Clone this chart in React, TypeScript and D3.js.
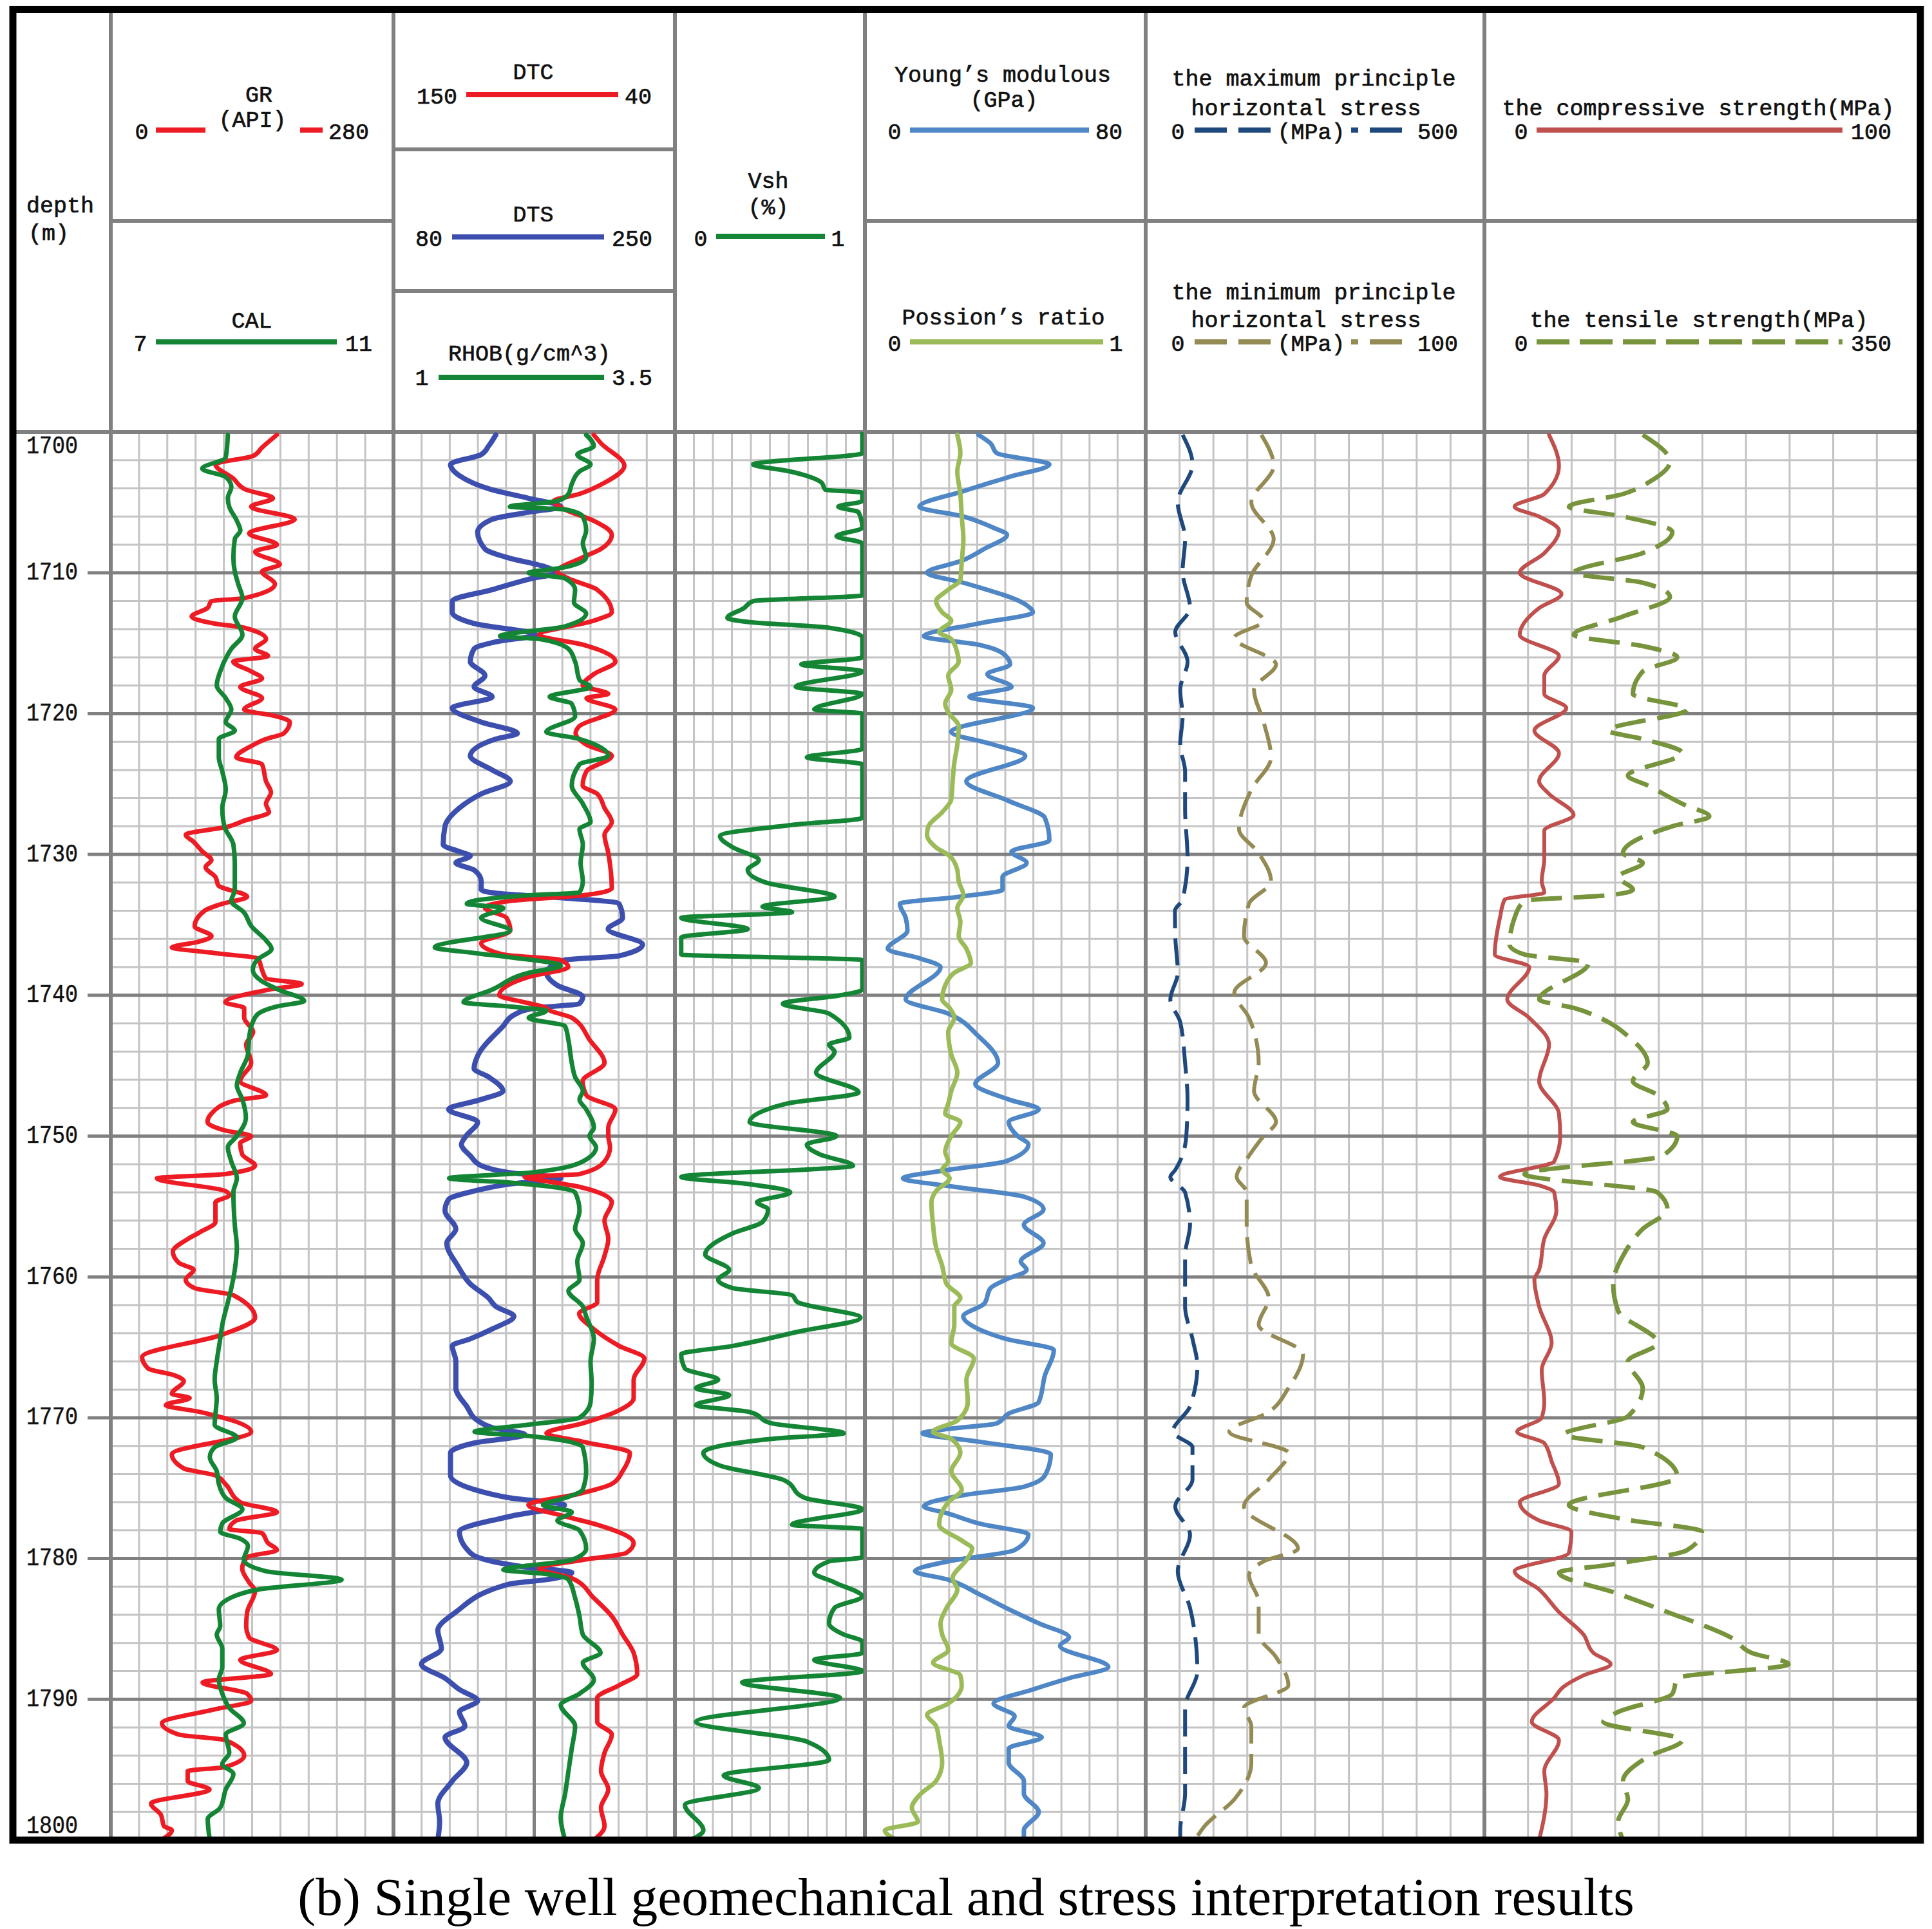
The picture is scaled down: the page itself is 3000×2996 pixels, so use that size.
import React from "react";
import * as d3 from "d3";

type Pt = [number, number]; // [depth m, value]

const depthTicks = [1700, 1710, 1720, 1730, 1740, 1750, 1760, 1770, 1780, 1790, 1800];

const GR: Pt[] = [[1700.2,165],[1701.1,150],[1701.7,141],[1702.3,103],[1703.3,121],[1704.1,134],[1704.7,161],[1705.3,139],[1706.2,183],[1707.2,137],[1708.0,165],[1708.5,143],[1709.4,168],[1709.9,150],[1710.8,163],[1711.8,132],[1712.0,99],[1712.5,95],[1713.1,79],[1713.6,102],[1713.9,132],[1714.7,154],[1715.4,143],[1715.9,156],[1716.3,121],[1717.0,139],[1717.5,150],[1718.1,128],[1718.9,150],[1719.7,132],[1720.2,165],[1720.6,178],[1721.4,172],[1721.8,154],[1722.3,139],[1723.1,124],[1723.6,150],[1724.8,154],[1725.6,159],[1726.4,154],[1727.0,157],[1727.6,132],[1728.0,117],[1728.6,73],[1729.1,81],[1729.8,90],[1730.4,99],[1730.9,93],[1731.6,103],[1732.2,106],[1733.0,135],[1733.5,110],[1734.0,92],[1735.1,82],[1735.8,99],[1736.2,86],[1736.6,59],[1737.0,102],[1737.4,146],[1738.2,150],[1738.8,154],[1739.2,190],[1739.6,157],[1740.5,113],[1740.9,132],[1741.6,132],[1742.6,141],[1743.5,134],[1744.8,139],[1746.1,128],[1747.1,154],[1747.5,121],[1748.4,99],[1749.0,95],[1749.6,113],[1750.0,139],[1750.5,128],[1751.3,130],[1752.1,143],[1752.7,113],[1753.0,44],[1753.9,113],[1754.2,117],[1754.7,103],[1756.1,103],[1756.8,88],[1757.4,73],[1758.2,60],[1759.0,66],[1759.5,81],[1760.2,73],[1760.8,82],[1761.3,121],[1762.9,143],[1764.1,110],[1765.7,29],[1766.5,35],[1767.0,62],[1767.4,71],[1768.3,59],[1768.6,77],[1769.1,53],[1769.6,88],[1771.0,139],[1772.6,59],[1773.6,71],[1774.1,103],[1774.7,113],[1776.0,128],[1776.7,165],[1777.3,124],[1777.9,117],[1778.2,150],[1778.9,156],[1779.4,165],[1779.9,135],[1780.7,130],[1781.7,137],[1782.3,143],[1783.8,135],[1784.8,134],[1785.6,137],[1786.5,165],[1787.2,128],[1788.2,159],[1788.8,90],[1789.6,135],[1790.1,139],[1790.7,103],[1791.7,49],[1792.5,66],[1792.9,113],[1794.0,132],[1794.8,113],[1795.1,75],[1795.8,75],[1796.4,97],[1797.4,38],[1798.2,48],[1799.0,51],[1799.3,59],[1800.0,48]];

const CAL: Pt[] = [[1700.2,8.65],[1701.8,8.62],[1702.6,8.28],[1703.2,8.62],[1703.9,8.70],[1704.7,8.65],[1705.3,8.67],[1706.3,8.78],[1707.0,8.83],[1707.6,8.75],[1708.9,8.73],[1709.9,8.75],[1710.8,8.80],[1711.8,8.86],[1713.1,8.75],[1714.4,8.86],[1715.4,8.70],[1717.0,8.54],[1718.0,8.49],[1718.9,8.62],[1719.7,8.70],[1720.6,8.62],[1721.2,8.75],[1721.8,8.52],[1723.1,8.52],[1724.1,8.57],[1725.4,8.62],[1726.7,8.57],[1728.0,8.60],[1729.3,8.73],[1730.6,8.75],[1732.5,8.75],[1733.3,8.70],[1734.1,8.88],[1735.1,8.99],[1736.1,9.20],[1736.7,9.28],[1737.5,9.07],[1738.2,9.01],[1739.0,9.14],[1739.6,9.38],[1740.4,9.75],[1740.8,9.35],[1741.3,9.09],[1741.9,9.01],[1742.9,8.96],[1744.2,8.94],[1745.5,8.83],[1746.4,8.78],[1747.4,8.86],[1748.7,8.91],[1750.0,8.78],[1750.8,8.65],[1751.8,8.70],[1753.0,8.78],[1754.0,8.73],[1756.3,8.75],[1757.9,8.78],[1759.5,8.75],[1760.8,8.70],[1761.8,8.65],[1763.4,8.57],[1764.4,8.54],[1766.0,8.49],[1767.3,8.46],[1768.6,8.49],[1770.5,8.46],[1771.4,8.78],[1772.1,8.46],[1772.8,8.39],[1773.8,8.49],[1774.7,8.52],[1775.7,8.62],[1776.5,8.86],[1777.5,8.57],[1778.1,8.54],[1778.6,8.83],[1779.1,8.94],[1780.1,8.88],[1780.9,9.20],[1781.5,10.29],[1782.2,9.09],[1782.7,8.73],[1783.6,8.52],[1784.8,8.54],[1785.4,8.49],[1786.4,8.57],[1787.7,8.57],[1788.6,8.52],[1789.6,8.57],[1790.6,8.67],[1791.7,8.88],[1792.5,8.62],[1793.8,8.67],[1794.6,8.57],[1795.3,8.73],[1796.4,8.62],[1797.7,8.54],[1798.5,8.36],[1800.0,8.39]];

const DTC: Pt[] = [[1700.2,71.3],[1700.8,68.4],[1702.4,59.1],[1703.6,67.0],[1704.4,77.1],[1704.9,87.2],[1705.5,82.9],[1706.3,71.3],[1707.3,64.1],[1708.3,68.4],[1708.9,75.7],[1709.9,85.8],[1710.4,81.4],[1711.2,69.9],[1712.8,64.1],[1713.4,71.3],[1714.4,93.0],[1715.1,75.7],[1716.3,62.7],[1717.2,71.3],[1718.0,75.7],[1718.6,65.5],[1718.9,74.2],[1719.7,62.7],[1720.9,77.1],[1721.4,78.5],[1722.2,74.2],[1723.0,64.1],[1724.1,74.2],[1725.1,75.7],[1725.7,69.9],[1726.7,67.0],[1727.7,64.1],[1728.6,67.0],[1729.9,65.5],[1732.4,64.1],[1732.9,75.7],[1733.3,104.5],[1733.8,114.6],[1734.5,106.0],[1735.4,104.5],[1736.3,116.1],[1737.1,107.4],[1737.5,84.3],[1738.0,81.4],[1738.7,97.3],[1740.0,108.9],[1740.5,98.8],[1740.8,91.5],[1741.1,88.6],[1741.6,80.0],[1743.2,72.8],[1744.8,67.0],[1746.1,75.7],[1747.1,74.2],[1748.1,62.7],[1749.4,65.5],[1750.0,65.5],[1750.8,64.8],[1751.8,67.0],[1752.7,77.1],[1752.9,98.8],[1753.2,90.1],[1753.6,77.1],[1754.7,64.1],[1756.0,67.0],[1757.3,65.5],[1758.5,67.0],[1760.2,69.9],[1761.8,69.9],[1762.6,77.1],[1763.7,71.3],[1764.9,61.2],[1765.8,51.1],[1767.3,55.4],[1768.6,55.4],[1769.6,62.7],[1770.4,75.7],[1771.1,90.1],[1771.7,75.7],[1772.5,56.9],[1773.8,59.8],[1774.7,64.1],[1775.4,77.1],[1776.2,97.3],[1777.0,82.9],[1777.6,69.9],[1778.9,55.4],[1779.6,58.3],[1780.1,75.7],[1780.7,93.0],[1781.4,80.0],[1782.8,71.3],[1784.1,64.1],[1785.4,59.8],[1786.7,55.4],[1788.2,54.0],[1789.0,61.2],[1789.9,69.9],[1791.6,69.9],[1792.5,64.1],[1793.8,67.0],[1795.1,68.4],[1796.4,65.5],[1797.7,68.4],[1799.0,67.0],[1800.0,71.3]];

const DTS: Pt[] = [[1700.2,141.4],[1701.0,136.9],[1701.6,132.4],[1702.3,113.5],[1703.1,119.0],[1704.1,139.1],[1704.7,161.4],[1705.3,181.5],[1705.7,161.4],[1706.2,139.1],[1707.1,130.2],[1708.3,134.7],[1708.9,148.0],[1709.6,172.6],[1710.0,179.3],[1710.4,163.7],[1711.2,139.1],[1712.0,114.6],[1712.8,114.6],[1713.6,128.0],[1714.4,165.9],[1714.9,141.4],[1715.4,128.0],[1716.3,125.7],[1717.3,134.7],[1718.1,128.0],[1718.8,139.1],[1719.6,114.6],[1720.6,132.4],[1721.4,154.7],[1721.8,141.4],[1723.0,125.7],[1724.0,139.1],[1724.8,150.3],[1725.7,132.4],[1726.7,119.0],[1728.0,110.1],[1729.3,109.0],[1729.8,119.0],[1730.1,125.7],[1730.6,116.8],[1731.1,128.0],[1731.9,132.4],[1732.5,132.4],[1732.8,145.8],[1733.0,172.6],[1733.5,217.2],[1734.5,219.4],[1735.3,210.5],[1736.4,231.7],[1737.2,217.2],[1737.5,183.7],[1738.4,172.6],[1739.3,179.3],[1740.1,194.9],[1740.6,192.7],[1740.9,165.9],[1741.4,152.5],[1742.2,145.8],[1744.3,130.2],[1745.2,128.0],[1745.8,136.9],[1746.8,145.8],[1747.4,132.4],[1748.1,112.3],[1749.0,130.2],[1750.0,123.0],[1750.6,120.2],[1751.4,125.7],[1752.1,132.4],[1752.6,150.3],[1753.0,181.5],[1753.4,150.3],[1753.9,128.0],[1754.5,112.3],[1755.3,110.1],[1756.6,116.8],[1757.6,111.2],[1759.2,117.9],[1760.5,125.7],[1761.5,136.9],[1762.1,141.4],[1762.8,152.5],[1763.7,139.1],[1764.4,125.7],[1764.9,114.6],[1766.0,116.8],[1767.9,116.8],[1769.2,123.5],[1770.2,130.2],[1770.7,139.1],[1771.2,159.2],[1771.8,128.0],[1772.5,113.5],[1774.1,113.5],[1775.1,128.0],[1775.7,150.3],[1776.2,183.7],[1777.0,150.3],[1778.1,119.0],[1779.6,125.7],[1780.2,139.1],[1780.6,159.2],[1781.0,188.2],[1781.5,172.6],[1781.8,150.3],[1783.8,116.8],[1785.1,105.7],[1786.4,107.9],[1787.5,95.6],[1788.5,110.1],[1789.3,119.0],[1790.1,130.2],[1790.9,119.0],[1791.9,122.4],[1792.7,110.1],[1794.5,123.5],[1795.8,114.6],[1797.4,105.7],[1798.7,106.8],[1800.0,105.7]];

const RHOB: Pt[] = [[1700.2,2.72],[1701.0,2.79],[1701.6,2.64],[1702.3,2.76],[1702.8,2.66],[1703.7,2.59],[1704.4,2.56],[1704.9,2.46],[1705.3,2.03],[1705.5,2.53],[1706.0,2.69],[1707.0,2.72],[1707.9,2.69],[1708.9,2.72],[1709.6,2.53],[1710.0,2.20],[1710.4,2.53],[1711.2,2.62],[1712.1,2.61],[1712.9,2.72],[1713.8,2.53],[1714.5,1.94],[1714.7,2.30],[1715.4,2.56],[1716.3,2.62],[1717.6,2.66],[1718.1,2.76],[1718.8,2.39],[1719.3,2.59],[1720.2,2.62],[1721.3,2.36],[1721.8,2.66],[1723.0,2.92],[1723.6,2.66],[1725.1,2.59],[1726.4,2.69],[1727.7,2.76],[1728.2,2.66],[1729.3,2.69],[1730.6,2.67],[1731.9,2.69],[1732.7,2.66],[1732.9,2.20],[1733.5,1.64],[1733.8,1.97],[1734.5,1.77],[1735.4,2.03],[1736.6,1.35],[1737.0,1.71],[1737.3,2.03],[1737.9,2.49],[1738.4,2.20],[1739.6,1.87],[1740.5,1.61],[1740.8,2.03],[1741.1,2.36],[1741.6,2.20],[1742.2,2.53],[1743.2,2.56],[1744.8,2.59],[1745.8,2.62],[1746.8,2.69],[1747.4,2.66],[1748.1,2.72],[1749.4,2.79],[1750.0,2.75],[1750.8,2.81],[1751.8,2.69],[1752.6,2.20],[1753.0,1.48],[1753.3,2.03],[1754.0,2.62],[1755.3,2.66],[1756.6,2.62],[1757.6,2.69],[1758.9,2.64],[1760.2,2.66],[1761.0,2.56],[1762.1,2.69],[1762.8,2.72],[1764.4,2.79],[1766.0,2.76],[1767.6,2.77],[1768.9,2.76],[1770.0,2.66],[1770.5,2.20],[1771.0,1.71],[1771.3,2.20],[1772.1,2.69],[1773.8,2.72],[1775.1,2.69],[1775.7,2.53],[1776.2,2.33],[1776.7,2.59],[1777.3,2.46],[1778.0,2.66],[1779.3,2.72],[1780.1,2.59],[1780.8,1.97],[1781.1,2.36],[1781.5,2.56],[1782.8,2.62],[1784.1,2.66],[1785.4,2.69],[1786.7,2.85],[1787.4,2.69],[1788.6,2.79],[1789.6,2.66],[1790.4,2.49],[1791.9,2.62],[1793.5,2.59],[1795.1,2.56],[1796.7,2.53],[1798.4,2.49],[1800.0,2.53]];

const VSH: Pt[] = [[1700.0,1],[1701.5,1],[1702.3,0.41],[1702.8,0.61],[1703.6,0.78],[1704.1,0.80],[1704.3,1],[1704.9,1],[1705.3,0.87],[1705.7,0.98],[1706.8,1],[1707.4,0.86],[1707.9,1],[1711.6,1],[1712.0,0.41],[1712.5,0.36],[1713.2,0.27],[1713.5,0.39],[1713.9,0.82],[1714.6,1],[1716.0,1],[1716.5,0.67],[1717.0,1],[1718.1,0.64],[1718.6,1],[1719.7,0.74],[1720.0,1],[1722.5,1],[1723.1,0.70],[1723.6,1],[1727.4,1],[1727.9,0.62],[1728.7,0.23],[1729.5,0.30],[1730.4,0.44],[1731.1,0.38],[1732.0,0.48],[1733.0,0.85],[1733.7,0.46],[1734.1,0.62],[1734.5,0.02],[1735.3,0.38],[1735.9,0.02],[1737.1,0.02],[1737.5,1],[1739.6,1],[1740.0,0.88],[1740.6,0.57],[1741.3,0.82],[1743.0,0.93],[1743.5,0.82],[1744.0,0.85],[1745.5,0.75],[1746.9,0.98],[1747.7,0.59],[1749.0,0.39],[1750.0,0.86],[1750.6,0.70],[1751.3,0.77],[1752.1,0.95],[1752.9,0.02],[1753.4,0.38],[1754.0,0.61],[1754.7,0.43],[1755.2,0.49],[1756.1,0.46],[1756.9,0.30],[1758.4,0.15],[1759.5,0.28],[1760.2,0.22],[1760.8,0.30],[1761.3,0.62],[1761.8,0.65],[1762.9,0.99],[1763.9,0.65],[1764.9,0.30],[1765.5,0.02],[1766.5,0.04],[1767.3,0.22],[1767.9,0.10],[1768.4,0.28],[1769.1,0.10],[1769.6,0.39],[1770.4,0.51],[1771.1,0.90],[1771.5,0.51],[1772.5,0.14],[1773.4,0.23],[1774.4,0.57],[1775.7,0.69],[1776.5,1],[1777.6,0.62],[1777.9,1],[1779.9,1],[1780.2,0.82],[1781.0,0.74],[1781.7,0.85],[1782.7,1],[1783.5,0.85],[1784.6,0.82],[1785.4,0.90],[1785.9,1],[1786.7,1],[1787.2,0.74],[1788.0,1],[1788.8,0.35],[1789.9,0.88],[1791.6,0.10],[1793.0,0.70],[1794.3,0.82],[1795.4,0.25],[1796.3,0.44],[1797.5,0.04],[1799.3,0.14],[1800.0,0.07]];

const YM: Pt[] = [[1700.2,32.2],[1700.8,35.7],[1701.5,37.5],[1702.3,52.8],[1703.2,41.0],[1704.2,27.8],[1705.3,15.1],[1706.0,27.8],[1706.8,36.6],[1707.3,40.5],[1708.3,33.9],[1709.1,27.8],[1710.0,17.3],[1710.7,27.8],[1712.3,46.2],[1712.8,48.0],[1713.6,32.2],[1714.5,16.4],[1715.1,32.2],[1715.7,39.2],[1716.5,41.4],[1717.2,34.8],[1718.1,41.8],[1718.8,29.6],[1719.6,48.0],[1721.3,24.3],[1722.2,36.6],[1723.0,45.8],[1724.8,28.7],[1726.2,41.0],[1727.4,51.5],[1729.0,52.8],[1729.8,41.8],[1730.6,46.2],[1731.6,39.2],[1732.5,39.2],[1733.0,26.9],[1733.5,9.4],[1734.5,11.1],[1735.4,11.6],[1736.7,5.9],[1737.4,15.5],[1738.0,21.2],[1740.3,11.1],[1741.3,23.4],[1742.9,32.2],[1744.8,37.9],[1746.3,31.3],[1747.4,41.0],[1748.1,49.7],[1749.0,41.0],[1750.0,43.6],[1750.6,46.7],[1751.8,40.1],[1752.4,23.4],[1753.0,10.3],[1753.6,25.2],[1754.3,45.4],[1755.2,51.1],[1756.3,45.4],[1757.6,51.1],[1758.9,44.5],[1759.5,46.2],[1760.2,40.1],[1760.8,35.7],[1761.9,33.9],[1762.8,27.8],[1763.7,32.2],[1764.4,40.1],[1765.2,54.1],[1767.0,51.5],[1768.9,49.7],[1769.7,41.0],[1770.4,37.5],[1770.8,23.4],[1771.1,16.0],[1771.7,32.2],[1772.6,53.2],[1774.1,51.5],[1774.9,45.4],[1775.5,27.8],[1776.3,16.4],[1776.8,23.4],[1777.5,32.2],[1778.3,46.7],[1779.4,42.7],[1780.2,23.4],[1780.9,13.8],[1781.5,23.4],[1782.5,32.2],[1783.6,41.0],[1784.6,49.7],[1785.6,58.5],[1786.2,55.9],[1787.7,69.9],[1788.5,58.5],[1789.3,48.0],[1790.3,36.6],[1791.2,42.7],[1791.9,41.0],[1792.7,50.6],[1793.5,41.0],[1794.5,41.0],[1795.8,45.4],[1796.7,45.4],[1798.0,49.7],[1799.3,45.4],[1800.0,45.4]];

const PR: Pt[] = [[1700.2,0.326],[1701.5,0.337],[1702.8,0.326],[1704.4,0.337],[1706.0,0.342],[1707.6,0.348],[1709.2,0.342],[1710.5,0.337],[1711.2,0.293],[1712.0,0.249],[1712.8,0.271],[1713.4,0.304],[1714.2,0.26],[1714.7,0.304],[1715.7,0.326],[1716.3,0.331],[1717.3,0.293],[1718.3,0.304],[1719.3,0.282],[1719.9,0.293],[1720.9,0.331],[1722.2,0.326],[1723.5,0.315],[1724.8,0.309],[1726.1,0.304],[1727.0,0.271],[1728.0,0.221],[1728.6,0.216],[1729.5,0.249],[1730.1,0.298],[1731.1,0.326],[1731.9,0.331],[1732.9,0.348],[1733.8,0.326],[1734.8,0.337],[1735.8,0.331],[1736.7,0.359],[1737.7,0.375],[1738.4,0.315],[1739.3,0.282],[1740.3,0.271],[1740.9,0.298],[1741.6,0.315],[1742.6,0.293],[1744.2,0.304],[1745.5,0.326],[1746.8,0.304],[1747.7,0.293],[1748.4,0.282],[1749.0,0.337],[1750.0,0.304],[1751.1,0.282],[1751.8,0.293],[1752.4,0.271],[1753.0,0.298],[1753.9,0.249],[1754.7,0.232],[1756.3,0.238],[1757.9,0.249],[1759.2,0.271],[1760.5,0.287],[1761.5,0.337],[1762.1,0.315],[1763.4,0.315],[1764.7,0.304],[1765.8,0.386],[1767.3,0.359],[1768.9,0.364],[1770.2,0.326],[1771.0,0.238],[1771.5,0.304],[1772.5,0.337],[1773.8,0.304],[1775.1,0.342],[1776.0,0.293],[1777.6,0.26],[1778.8,0.348],[1779.3,0.38],[1780.1,0.359],[1781.4,0.309],[1782.2,0.326],[1783.5,0.287],[1784.6,0.265],[1785.4,0.271],[1786.5,0.293],[1787.4,0.238],[1788.3,0.337],[1789.0,0.342],[1790.3,0.293],[1791.1,0.216],[1791.9,0.249],[1792.9,0.26],[1794.5,0.271],[1795.8,0.249],[1796.7,0.194],[1797.7,0.161],[1798.7,0.183],[1799.3,0.063],[1800.0,0.106]];

const SHMAX: Pt[] = [[1700.2,51.5],[1702.3,66.3],[1705.0,44.2],[1707.6,55.2],[1709.9,51.5],[1712.5,62.6],[1714.2,40.5],[1716.3,58.9],[1718.3,47.9],[1720.2,51.5],[1722.2,47.9],[1724.1,55.2],[1726.7,55.2],[1730.3,58.9],[1733.2,51.5],[1734.0,40.0],[1735.8,40.5],[1738.4,44.2],[1740.3,33.1],[1741.9,47.9],[1744.8,55.2],[1747.4,58.9],[1750.0,57.0],[1752.4,40.5],[1752.9,33.1],[1754.0,55.2],[1756.3,62.6],[1758.5,55.2],[1762.1,55.2],[1764.4,66.3],[1766.3,73.6],[1769.2,62.6],[1771.0,36.8],[1772.1,66.3],[1774.4,66.3],[1776.3,40.5],[1778.3,62.6],[1780.9,44.2],[1783.5,62.6],[1785.4,70.0],[1788.0,73.6],[1790.6,55.2],[1793.5,55.2],[1796.7,55.2],[1799.3,47.9],[1800.0,47.9]];

const SHMIN: Pt[] = [[1700.2,33.9],[1702.4,37.6],[1705.0,30.9],[1707.6,37.6],[1710.2,30.9],[1712.1,29.5],[1713.4,34.6],[1714.6,25.8],[1716.5,38.3],[1718.3,31.7],[1720.6,34.6],[1723.1,36.8],[1725.4,30.9],[1728.2,27.2],[1729.9,33.1],[1731.9,36.8],[1733.5,30.2],[1735.8,28.7],[1737.7,35.3],[1739.8,25.8],[1741.6,30.2],[1744.8,33.1],[1746.8,31.7],[1749.0,38.3],[1750.0,34.6],[1751.4,30.2],[1752.9,26.5],[1754.0,29.5],[1756.3,29.5],[1759.2,30.9],[1761.5,36.1],[1763.4,33.1],[1765.5,46.4],[1767.9,42.0],[1769.6,36.1],[1771.0,24.3],[1772.5,42.0],[1774.4,36.1],[1776.3,28.7],[1779.3,44.9],[1780.2,34.6],[1781.2,30.2],[1783.1,33.1],[1785.4,33.1],[1787.0,38.3],[1789.0,42.0],[1790.6,28.7],[1791.9,30.9],[1794.5,30.9],[1797.1,25.8],[1799.0,16.9],[1800.0,14.0]];

const UCS: Pt[] = [[1700.2,14.4],[1702.4,16.7],[1704.4,13.3],[1705.3,6.4],[1706.0,12.1],[1707.0,16.7],[1708.6,13.3],[1710.0,7.6],[1711.5,17.3],[1712.5,12.1],[1714.4,7.6],[1715.9,16.7],[1717.3,13.3],[1718.6,13.3],[1719.6,18.4],[1721.2,11.0],[1722.8,16.7],[1724.8,12.1],[1725.7,14.4],[1727.2,20.1],[1728.3,13.3],[1730.3,13.3],[1731.9,12.7],[1732.7,13.3],[1733.2,4.1],[1734.5,3.0],[1737.1,1.8],[1738.0,9.8],[1740.3,4.7],[1741.6,9.8],[1743.5,14.4],[1746.1,12.1],[1748.4,16.7],[1750.0,17.0],[1751.8,15.6],[1752.9,3.0],[1753.5,12.1],[1754.0,15.6],[1755.3,16.1],[1757.3,13.3],[1759.5,12.1],[1760.2,11.0],[1762.1,12.1],[1764.7,15.0],[1766.6,12.7],[1768.9,13.3],[1770.0,12.7],[1771.0,7.0],[1771.8,13.3],[1773.1,15.0],[1774.7,16.7],[1776.0,7.6],[1777.3,12.1],[1778.1,19.6],[1779.6,19.0],[1780.9,6.4],[1782.2,12.1],[1783.8,16.7],[1785.4,22.4],[1786.7,24.7],[1787.5,28.7],[1788.3,22.4],[1789.1,17.8],[1789.9,15.6],[1791.6,10.4],[1792.9,16.7],[1795.1,13.3],[1796.7,13.8],[1800.0,12.1]];

const TS: Pt[] = [[1700.2,126.5],[1702.1,148.6],[1703.4,134.6],[1704.4,110.5],[1705.3,66.5],[1706.0,110.5],[1707.1,150.6],[1708.6,126.5],[1710.0,70.5],[1710.7,126.5],[1711.7,148.6],[1713.1,110.5],[1714.4,70.5],[1715.2,126.5],[1716.0,154.6],[1717.0,126.5],[1718.6,118.5],[1719.7,162.6],[1721.2,98.5],[1721.8,126.5],[1722.8,158.6],[1724.4,114.5],[1725.1,130.5],[1726.4,158.6],[1727.3,180.6],[1728.0,150.6],[1729.9,110.5],[1730.6,126.5],[1731.6,106.5],[1732.5,118.5],[1732.9,98.5],[1733.3,30.4],[1734.5,22.4],[1736.4,18.4],[1737.1,30.4],[1737.7,82.5],[1740.3,42.4],[1740.9,70.5],[1741.9,98.5],[1742.9,114.5],[1744.8,130.5],[1746.1,118.5],[1747.1,138.6],[1748.1,146.6],[1749.0,118.5],[1750.0,154.6],[1751.4,142.6],[1752.7,30.4],[1754.0,138.6],[1755.2,146.6],[1756.6,126.5],[1758.5,110.5],[1760.5,102.5],[1762.4,106.5],[1764.7,138.6],[1766.0,114.5],[1767.9,126.5],[1769.9,114.5],[1771.2,62.5],[1772.1,126.5],[1774.2,154.6],[1776.2,66.5],[1777.2,110.5],[1778.1,174.6],[1779.4,162.6],[1780.4,102.5],[1781.0,58.5],[1782.5,106.5],[1783.8,146.6],[1785.7,200.0],[1786.7,215.0],[1787.5,245.0],[1788.5,154.6],[1789.6,150.6],[1790.9,106.5],[1791.6,94.5],[1792.9,158.6],[1794.1,130.5],[1795.8,110.5],[1797.1,114.5],[1798.7,106.5],[1800.0,110.5]];

// layout
const COLS = [20, 172, 611, 1048, 1343, 1779, 2305, 2982];
const TOP = 671;
const BOTTOM = 2858;
const MONO = "'Liberation Mono', 'DejaVu Sans Mono', monospace";
const FS = 35;

type Curve = { data: Pt[]; col: number; domain: [number, number]; color: string; width: number; dash?: string };

const curves: Curve[] = [
  { data: GR, col: 1, domain: [0, 280], color: "#ED1C24", width: 7 },
  { data: CAL, col: 1, domain: [7, 11], color: "#138535", width: 7 },
  { data: DTS, col: 2, domain: [80, 250], color: "#3C4FAE", width: 8 },
  { data: DTC, col: 2, domain: [150, 40], color: "#ED1C24", width: 7 },
  { data: RHOB, col: 2, domain: [1, 3.5], color: "#138535", width: 7 },
  { data: VSH, col: 3, domain: [0, 1], color: "#138535", width: 7 },
  { data: YM, col: 4, domain: [0, 80], color: "#4F86C6", width: 7 },
  { data: PR, col: 4, domain: [0, 1], color: "#9BBB59", width: 7 },
  { data: SHMAX, col: 5, domain: [0, 500], color: "#1F497D", width: 6, dash: "42 16" },
  { data: SHMIN, col: 5, domain: [0, 100], color: "#948A54", width: 6, dash: "42 16" },
  { data: UCS, col: 6, domain: [0, 100], color: "#C0504D", width: 6 },
  { data: TS, col: 6, domain: [0, 350], color: "#77933C", width: 7, dash: "48 18" },
];

function T(props: { x: number; y: number; children: React.ReactNode; anchor?: string; size?: number }) {
  return (
    <text x={props.x} y={props.y} textAnchor={props.anchor || "middle"} fontFamily={MONO} fontSize={props.size || FS}
      fill="#111" stroke="#111" strokeWidth={0.7}>
      {props.children}
    </text>
  );
}

export default function App() {
  const y = d3.scaleLinear().domain([1700, 1800]).range([TOP, BOTTOM]);

  const minorDepths = d3.range(1702, 1800, 2).filter((d) => d % 10 !== 0);
  const majorDepths = depthTicks.filter((d) => d > 1700 && d < 1800);

  const gridV: { x: number; major: boolean }[] = [];
  for (let c = 1; c <= 6; c++) {
    const L = COLS[c], R = COLS[c + 1];
    for (let i = 1; i < 10; i++) gridV.push({ x: L + ((R - L) * i) / 10, major: c === 2 && i === 5 });
  }

  const paths = curves.map((cv, k) => {
    const L = COLS[cv.col] + 4, R = COLS[cv.col + 1] - 4;
    const x = d3.scaleLinear().domain(cv.domain).range([L, R]);
    const line = d3
      .line<Pt>()
      .x((d) => x(d[1]))
      .y((d) => y(d[0]))
      .curve(d3.curveMonotoneY);
    return (
      <path key={k} d={line(cv.data) || ""} fill="none" stroke={cv.color} strokeWidth={cv.width}
        strokeDasharray={cv.dash} strokeLinejoin="round" strokeLinecap={cv.dash ? "butt" : "round"}
        clipPath={`url(#clip${cv.col})`} />
    );
  });

  return (
    <div>
      <style>{`body{margin:0;background:#fff}`}</style>
      <svg width={3000} height={2996} style={{ display: "block", background: "#fff" }}>
        <defs>
          {[1, 2, 3, 4, 5, 6].map((c) => (
            <clipPath key={c} id={`clip${c}`}>
              <rect x={COLS[c] + 2} y={TOP} width={COLS[c + 1] - COLS[c] - 4} height={BOTTOM - TOP} />
            </clipPath>
          ))}
        </defs>
        <rect x={0} y={0} width={3000} height={2996} fill="#fff" />

        {/* minor grid */}
        {minorDepths.map((d) => (
          <line key={"hm" + d} x1={COLS[1]} x2={COLS[7]} y1={y(d)} y2={y(d)} stroke="#C4C4C4" strokeWidth={3} />
        ))}
        {gridV.filter((g) => !g.major).map((g, i) => (
          <line key={"vm" + i} x1={g.x} x2={g.x} y1={TOP} y2={BOTTOM} stroke="#C4C4C4" strokeWidth={3} />
        ))}
        {/* major grid */}
        {majorDepths.map((d) => (
          <line key={"hM" + d} x1={136} x2={COLS[7]} y1={y(d)} y2={y(d)} stroke="#808080" strokeWidth={5} />
        ))}
        {gridV.filter((g) => g.major).map((g, i) => (
          <line key={"vM" + i} x1={g.x} x2={g.x} y1={TOP} y2={BOTTOM} stroke="#808080" strokeWidth={5} />
        ))}
        <line x1={COLS[0]} x2={COLS[7]} y1={TOP} y2={TOP} stroke="#808080" strokeWidth={6} />
        {/* column separators */}
        {COLS.slice(1, 7).map((cx, i) => (
          <line key={"cs" + i} x1={cx} x2={cx} y1={14} y2={BOTTOM} stroke="#808080" strokeWidth={6} />
        ))}
        {/* header dividers */}
        <line x1={COLS[1]} x2={COLS[2]} y1={343} y2={343} stroke="#808080" strokeWidth={6} />
        <line x1={COLS[2]} x2={COLS[3]} y1={232} y2={232} stroke="#808080" strokeWidth={6} />
        <line x1={COLS[2]} x2={COLS[3]} y1={452} y2={452} stroke="#808080" strokeWidth={6} />
        <line x1={COLS[4]} x2={COLS[7]} y1={343} y2={343} stroke="#808080" strokeWidth={6} />

        {/* curves */}
        {paths}

        {/* depth labels */}
        {depthTicks.map((d) => {
          const yy = d === 1700 ? y(d) + 22 : d === 1800 ? y(d) - 22 : y(d);
          return (
            <text key={"dl" + d} x={121} y={yy} textAnchor="end" dominantBaseline="central" fontFamily={MONO}
              fontSize={38} textLength={80} lengthAdjust="spacingAndGlyphs" fill="#111" stroke="#111" strokeWidth={0.5}>
              {d}
            </text>
          );
        })}

        {/* header: depth */}
        <T x={41} y={330} anchor="start">depth</T>
        <T x={44} y={373} anchor="start">(m)</T>

        {/* GR */}
        <T x={402} y={158}>GR</T>
        <T x={392} y={197}>(API)</T>
        <T x={220} y={216}>0</T>
        <line x1={242} x2={319} y1={202} y2={202} stroke="#ED1C24" strokeWidth={8} />
        <line x1={466} x2={501} y1={202} y2={202} stroke="#ED1C24" strokeWidth={8} />
        <T x={510} y={216} anchor="start">280</T>
        {/* CAL */}
        <T x={391} y={509}>CAL</T>
        <T x={218} y={545}>7</T>
        <line x1={242} x2={523} y1={531} y2={531} stroke="#138535" strokeWidth={8} />
        <T x={536} y={545} anchor="start">11</T>

        {/* DTC */}
        <T x={828} y={123}>DTC</T>
        <T x={647} y={161} anchor="start">150</T>
        <line x1={724} x2={960} y1={147} y2={147} stroke="#ED1C24" strokeWidth={8} />
        <T x={970} y={161} anchor="start">40</T>
        {/* DTS */}
        <T x={828} y={344}>DTS</T>
        <T x={645} y={382} anchor="start">80</T>
        <line x1={702} x2={938} y1={368} y2={368} stroke="#3C4FAE" strokeWidth={8} />
        <T x={950} y={382} anchor="start">250</T>
        {/* RHOB */}
        <T x={822} y={560}>RHOB(g/cm^3)</T>
        <T x={655} y={598}>1</T>
        <line x1={681} x2={938} y1={586} y2={586} stroke="#138535" strokeWidth={8} />
        <T x={950} y={598} anchor="start">3.5</T>

        {/* Vsh */}
        <T x={1193} y={292}>Vsh</T>
        <T x={1193} y={333}>(%)</T>
        <T x={1088} y={382}>0</T>
        <line x1={1112} x2={1281} y1={367} y2={367} stroke="#138535" strokeWidth={8} />
        <T x={1301} y={382}>1</T>

        {/* Young's */}
        <T x={1557} y={127}>Young’s modulous</T>
        <T x={1559} y={166}>(GPa)</T>
        <T x={1389} y={216}>0</T>
        <line x1={1413} x2={1691} y1={202} y2={202} stroke="#4F86C6" strokeWidth={8} />
        <T x={1701} y={216} anchor="start">80</T>
        {/* Poisson */}
        <T x={1558} y={504}>Possion’s ratio</T>
        <T x={1389} y={545}>0</T>
        <line x1={1413} x2={1713} y1={531} y2={531} stroke="#9BBB59" strokeWidth={8} />
        <T x={1733} y={545}>1</T>

        {/* Max stress */}
        <T x={2040} y={133}>the maximum principle</T>
        <T x={2028} y={179}>horizontal stress</T>
        <T x={1829} y={216}>0</T>
        <line x1={1855} x2={2190} y1={202} y2={202} stroke="#1F497D" strokeWidth={8} strokeDasharray="50 18" />
        <rect x={1980} y={180} width={118} height={46} fill="#fff" />
        <T x={2036} y={216}>(MPa)</T>
        <T x={2201} y={216} anchor="start">500</T>
        {/* Min stress */}
        <T x={2040} y={465}>the minimum principle</T>
        <T x={2028} y={508}>horizontal stress</T>
        <T x={1829} y={545}>0</T>
        <line x1={1855} x2={2190} y1={531} y2={531} stroke="#948A54" strokeWidth={8} strokeDasharray="50 18" />
        <rect x={1980} y={509} width={118} height={46} fill="#fff" />
        <T x={2036} y={545}>(MPa)</T>
        <T x={2201} y={545} anchor="start">100</T>

        {/* Compressive strength */}
        <T x={2637} y={179}>the compressive strength(MPa)</T>
        <T x={2362} y={216}>0</T>
        <line x1={2386} x2={2861} y1={202} y2={202} stroke="#C0504D" strokeWidth={8} />
        <T x={2874} y={216} anchor="start">100</T>
        {/* Tensile strength */}
        <T x={2638} y={508}>the tensile strength(MPa)</T>
        <T x={2362} y={545}>0</T>
        <line x1={2386} x2={2861} y1={531} y2={531} stroke="#77933C" strokeWidth={8} strokeDasharray="51 16" />
        <T x={2874} y={545} anchor="start">350</T>

        {/* outer border */}
        <rect x={20} y={14.5} width={2962} height={BOTTOM - 14.5} fill="none" stroke="#000" strokeWidth={11} />

        {/* caption */}
        <text x={1500} y={2974} textAnchor="middle" fontFamily="'Liberation Serif', 'Times New Roman', serif" fontSize={83.5} fill="#000">
          (b) Single well geomechanical and stress interpretation results
        </text>
      </svg>
    </div>
  );
}
